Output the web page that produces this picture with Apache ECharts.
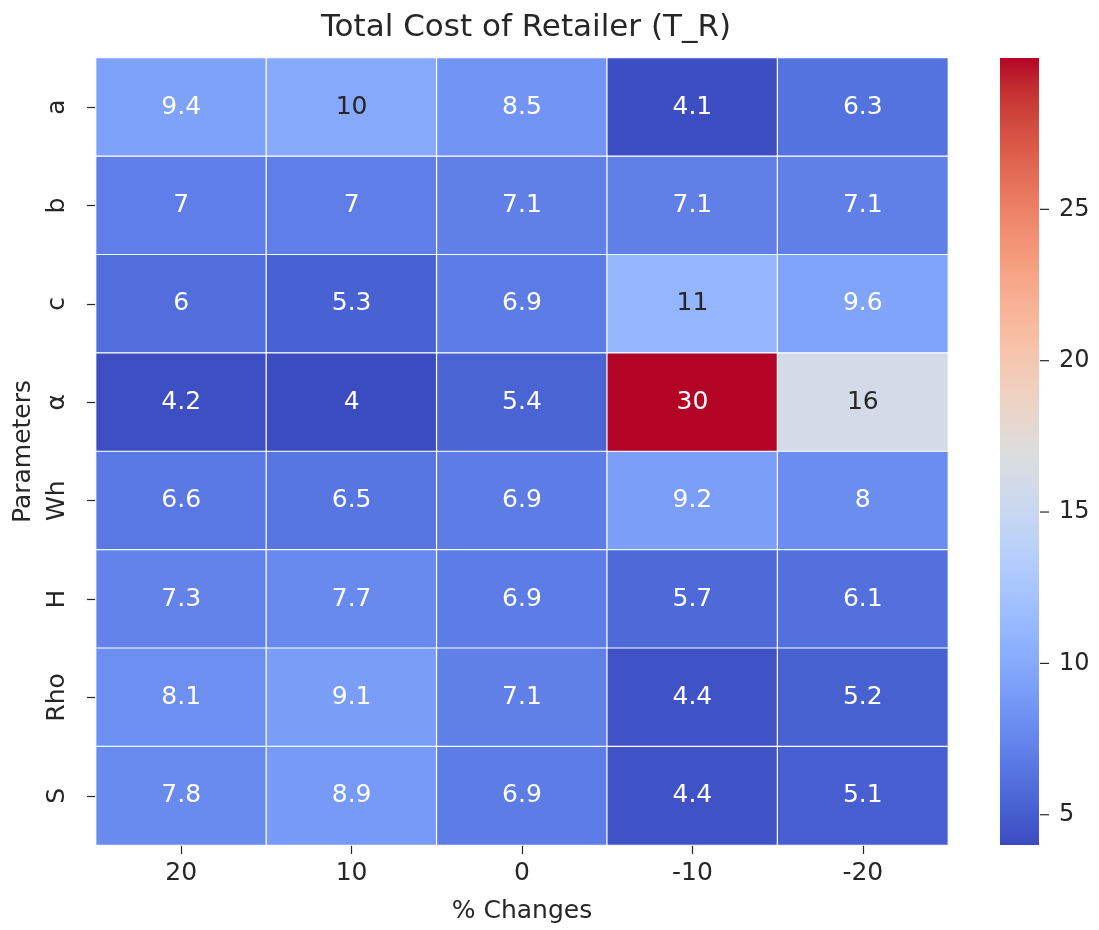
<!DOCTYPE html>
<html>
<head>
<meta charset="utf-8">
<script src="https://cdn.jsdelivr.net/npm/echarts@6/dist/echarts.min.js"></script>
<style>
html,body{margin:0;padding:0;background:#fff;}
#chart{width:1099px;height:930px;}
</style>
</head>
<body>
<div id="chart"></div>
<script>
// ---- data ----
const titleText = 'Total Cost of Retailer (T_R)';
const columns = ['20', '10', '0', '-10', '-20'];
const rows = ['a', 'b', 'c', 'α', 'Wh', 'H', 'Rho', 'S'];
const rowA   = [9.4, 10, 8.5, 4.1, 6.3];
const rowB   = [7, 7, 7.1, 7.1, 7.1];
const rowC   = [6, 5.3, 6.9, 11, 9.6];
const rowAlp = [4.2, 4, 5.4, 30, 16];
const rowWh  = [6.6, 6.5, 6.9, 9.2, 8];
const rowH   = [7.3, 7.7, 6.9, 5.7, 6.1];
const rowRho = [8.1, 9.1, 7.1, 4.4, 5.2];
const rowS   = [7.8, 8.9, 6.9, 4.4, 5.1];
const colorbarTicks = [5, 10, 15, 20, 25];
const xName = '% Changes';
const yName = 'Parameters';

const matrix = [rowA, rowB, rowC, rowAlp, rowWh, rowH, rowRho, rowS];

// ---- coolwarm palette ----
const coolwarm = [
 [59,76,192],[68,90,204],[77,104,215],[87,117,225],[98,130,234],[108,142,241],
 [119,154,247],[130,165,251],[141,176,254],[152,185,255],[163,194,255],[174,201,253],
 [184,208,249],[194,213,244],[204,217,238],[213,219,230],[221,221,221],[229,216,209],
 [236,211,197],[241,204,184],[245,196,172],[247,187,160],[247,177,148],[247,166,137],
 [244,154,123],[241,141,112],[236,127,99],[229,112,88],[222,96,77],[213,80,66],
 [203,62,56],[192,40,47],[180,4,38]
];
const cwHex = coolwarm.map(c => 'rgb(' + c.join(',') + ')');

const all = matrix.flat();
const vmin = Math.min(...all);
const vmax = Math.max(...all);

function cmap(t) {
  t = Math.max(0, Math.min(1, t));
  const n = coolwarm.length - 1;
  const i = Math.min(n - 1, Math.floor(t * n));
  const f = t * n - i;
  const a = coolwarm[i], b = coolwarm[i + 1];
  return [0,1,2].map(k => a[k] + (b[k] - a[k]) * f);
}
function textColor(v) {
  const c = cmap((v - vmin) / (vmax - vmin)).map(x => {
    x /= 255;
    return x <= 0.03928 ? x / 12.92 : Math.pow((x + 0.055) / 1.055, 2.4);
  });
  const L = 0.2126 * c[0] + 0.7152 * c[1] + 0.0722 * c[2];
  return L > 0.40 ? '#262626' : '#ffffff';
}

const heatData = [];
matrix.forEach((row, r) => row.forEach((v, c) => {
  heatData.push({ value: [c, r, v], label: { color: textColor(v) } });
}));

const FONT = 'DejaVu Sans';
const TXT = '#262626';
const chart = echarts.init(document.getElementById('chart'));

chart.setOption({
  backgroundColor: '#ffffff',
  animation: false,
  title: {
    text: titleText,
    left: 521, textAlign: 'center', top: 7,
    textStyle: { fontFamily: FONT, fontSize: 31, fontWeight: 'normal', color: TXT }
  },
  grid: [
    { left: 96, right: 151, top: 58, bottom: 85, outerBoundsMode: 'none', containLabel: false },
    { left: 1000, width: 39, top: 58, bottom: 85, outerBoundsMode: 'none', containLabel: false }
  ],
  xAxis: [
    {
      type: 'category', data: columns, gridIndex: 0,
      axisLine: { show: false },
      axisTick: { show: true, alignWithLabel: true, length: 9, lineStyle: { color: TXT, width: 1.2 } },
      axisLabel: { fontFamily: FONT, fontSize: 25, color: TXT, margin: 16 },
      splitLine: { show: false },
      name: xName, nameLocation: 'middle', nameGap: 54,
      nameTextStyle: { fontFamily: FONT, fontSize: 25, color: TXT }
    },
    { type: 'value', gridIndex: 1, min: 0, max: 1, show: false }
  ],
  yAxis: [
    {
      type: 'category', data: rows, gridIndex: 0, inverse: true,
      axisLine: { show: false },
      axisTick: { show: true, alignWithLabel: true, length: 9, lineStyle: { color: TXT, width: 1.2 } },
      axisLabel: { fontFamily: FONT, fontSize: 25, color: TXT, rotate: 90, margin: 26 },
      splitLine: { show: false },
      name: yName, nameLocation: 'middle', nameGap: 60, nameRotate: 90,
      nameTextStyle: { fontFamily: FONT, fontSize: 25, color: TXT }
    },
    {
      type: 'value', gridIndex: 1, min: vmin, max: vmax, position: 'right',
      axisLine: { show: false },
      splitLine: { show: false },
      axisTick: { show: false },
      axisLabel: { customValues: colorbarTicks, fontFamily: FONT, fontSize: 24, color: TXT, margin: 20 }
    }
  ],
  visualMap: {
    show: false, type: 'continuous', seriesIndex: 0,
    min: vmin, max: vmax, dimension: 2,
    inRange: { color: cwHex }
  },
  series: [
    {
      type: 'heatmap', xAxisIndex: 0, yAxisIndex: 0,
      data: heatData,
      itemStyle: { borderColor: '#ffffff', borderWidth: 1.2 },
      label: {
        show: true, fontFamily: FONT, fontSize: 25,
        formatter: p => String(p.value[2])
      },
      emphasis: { disabled: true }
    },
    {
      type: 'custom', xAxisIndex: 1, yAxisIndex: 1,
      data: [[0, vmin, 1, vmax]],
      clip: false, silent: true, z: 1,
      renderItem: function (params, api) {
        const p0 = api.coord([api.value(0), api.value(3)]);
        const p1 = api.coord([api.value(2), api.value(1)]);
        const stops = cwHex.map((c, i) => ({ offset: 1 - i / (cwHex.length - 1), color: c })).reverse();
        return {
          type: 'rect',
          shape: { x: p0[0], y: p0[1], width: p1[0] - p0[0], height: p1[1] - p0[1] },
          style: { fill: { type: 'linear', x: 0, y: 0, x2: 0, y2: 1, colorStops: stops } }
        };
      }
    },
    {
      // colorbar tick marks
      type: 'custom', xAxisIndex: 1, yAxisIndex: 1,
      data: colorbarTicks.map(v => [1, v]),
      clip: false, silent: true, z: 3,
      renderItem: function (params, api) {
        const p = api.coord([api.value(0), api.value(1)]);
        return {
          type: 'line',
          shape: { x1: p[0] + 1, y1: p[1], x2: p[0] + 10, y2: p[1] },
          style: { stroke: TXT, lineWidth: 1.2 }
        };
      }
    }
  ]
});
</script>
</body>
</html>
